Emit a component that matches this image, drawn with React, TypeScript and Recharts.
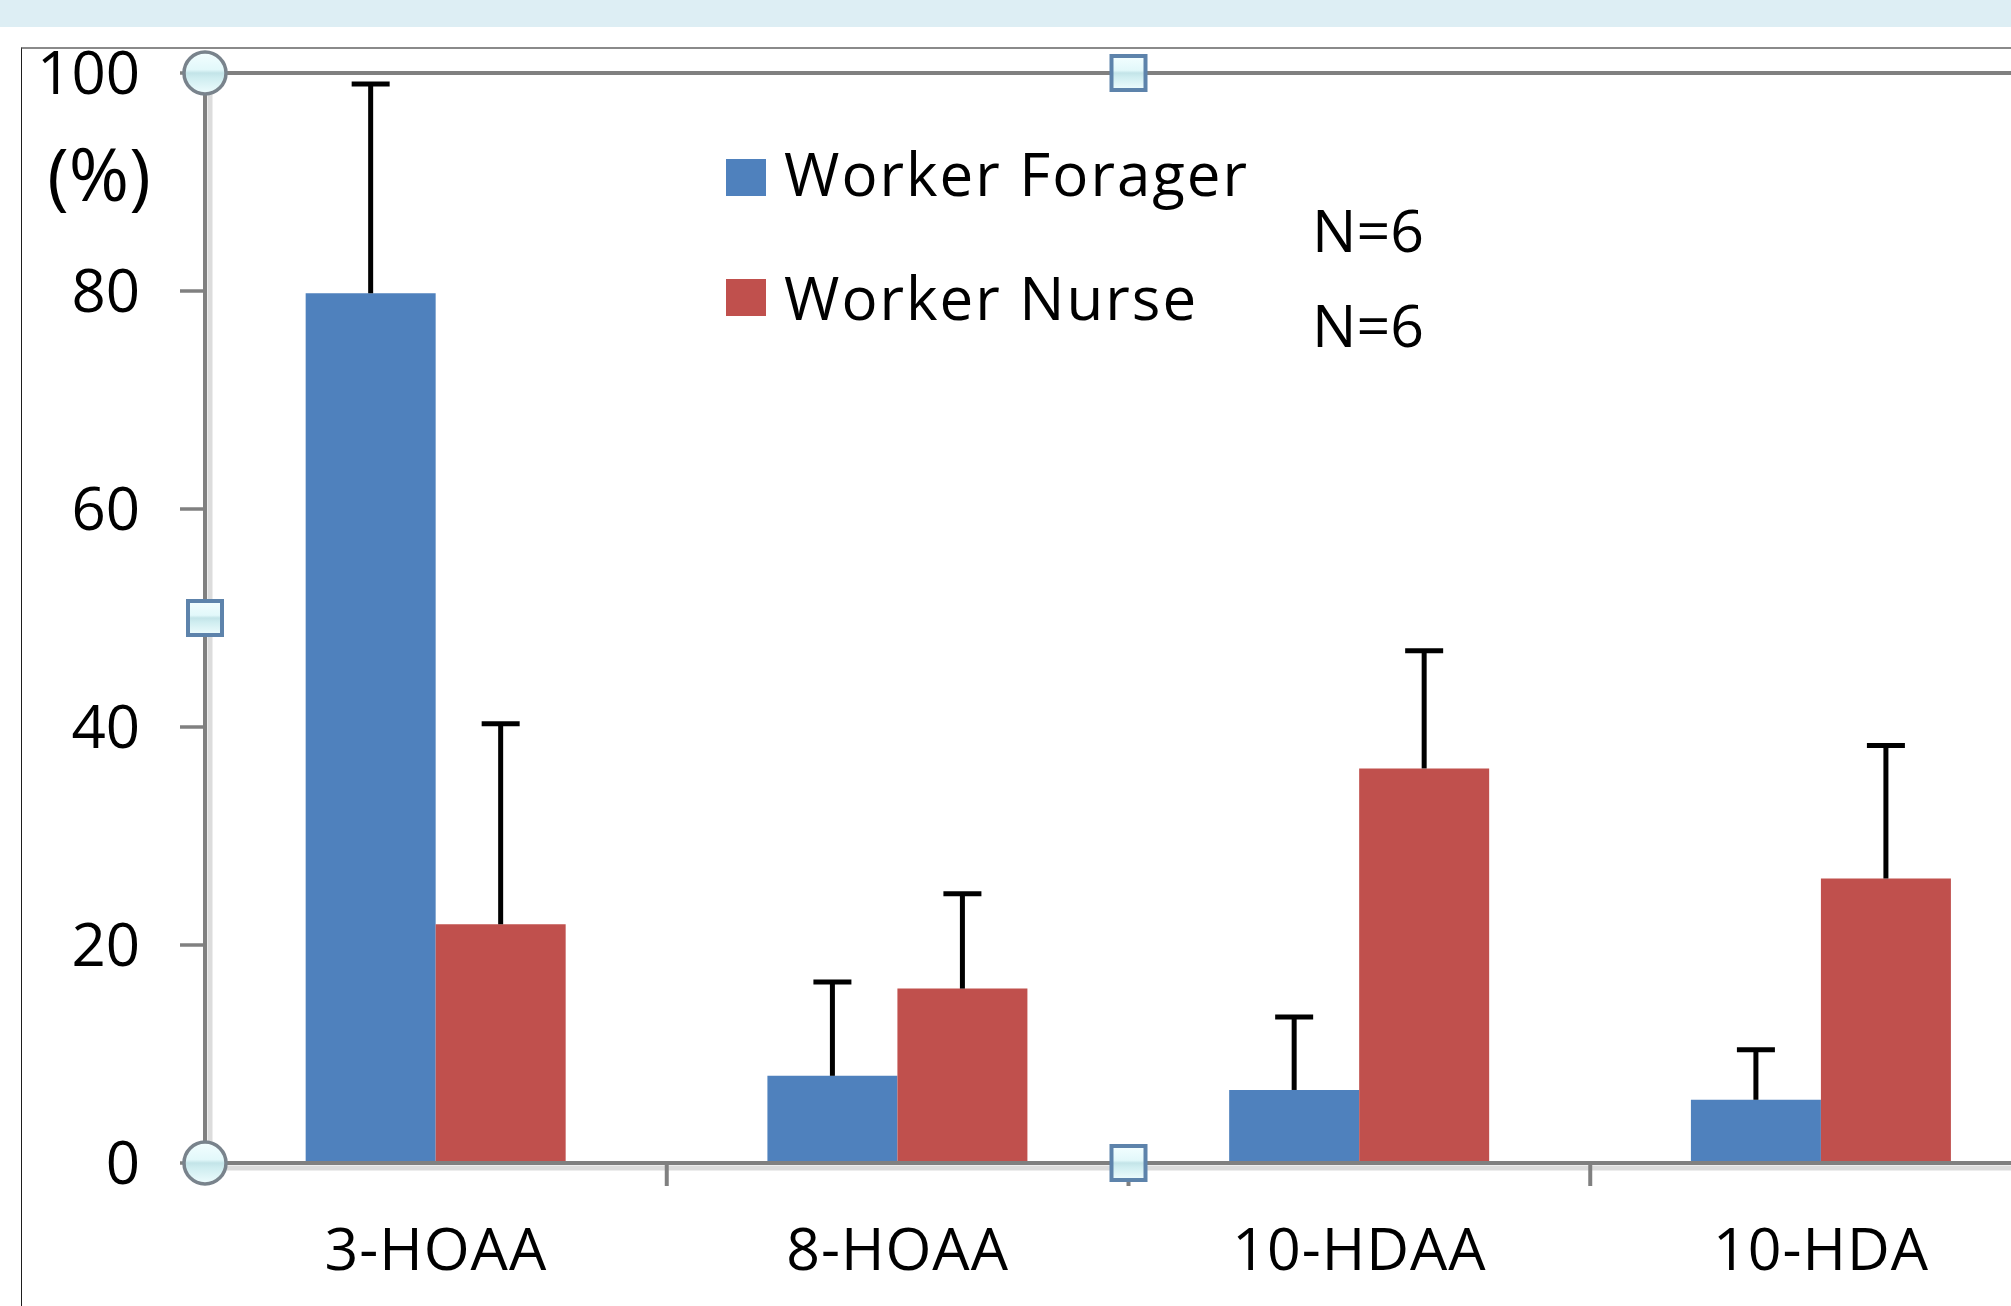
import React from 'react';
import { BarChart, Bar, XAxis, YAxis, ErrorBar, Legend, ReferenceLine, ReferenceDot } from 'recharts';

const categories = ['3-HOAA', '8-HOAA', '10-HDAA', '10-HDA'];
const foragerValues = [79.8, 8.0, 6.7, 5.8];
const foragerErrors = [19.2, 8.6, 6.7, 4.6];
const nurseValues = [21.9, 16.0, 36.2, 26.1];
const nurseErrors = [18.4, 8.7, 10.8, 12.2];
const seriesNames = ['Worker Forager', 'Worker Nurse'];
const seriesColors = ['#4F81BD', '#C0504D'];
const yTicks = [0, 20, 40, 60, 80, 100];
const yAxisLabel = '(%)';
const sampleSizes = ['N=6', 'N=6'];
const boundaryPositions = [1, 2, 3];
const circleHandles = [
  [0, 100],
  [0, 0],
];
const squareHandles = [
  [2, 100],
  [0, 50],
  [2, 0],
];

const data = categories.map((name, i) => ({
  name,
  pos: i + 0.5,
  forager: foragerValues[i],
  nurse: nurseValues[i],
  fErr: [0, foragerErrors[i]],
  nErr: [0, nurseErrors[i]],
}));

const AXIS_GRAY = '#808080';
const SHADOW_GRAY = '#DCDCDC';

const gradStops = (
  <>
    <stop offset="0" stopColor="#F3FEFF" />
    <stop offset="0.42" stopColor="#E2F8FA" />
    <stop offset="0.5" stopColor="#C3E4E8" />
    <stop offset="0.62" stopColor="#CFEDF0" />
    <stop offset="1" stopColor="#EFFDFE" />
  </>
);

const CircleHandle = (p: any) => {
  const id = `hc${Math.round(p.cx)}_${Math.round(p.cy)}`;
  return (
    <g>
      <defs>
        <linearGradient id={id} x1="0" y1="0" x2="0" y2="1">
          {gradStops}
        </linearGradient>
      </defs>
      <circle cx={p.cx} cy={p.cy} r={21} fill={`url(#${id})`} stroke="#79838C" strokeWidth={3.5} />
    </g>
  );
};

const SquareHandle = (p: any) => {
  const id = `hs${Math.round(p.cx)}_${Math.round(p.cy)}`;
  return (
    <g>
      <defs>
        <linearGradient id={id} x1="0" y1="0" x2="0" y2="1">
          {gradStops}
        </linearGradient>
      </defs>
      <rect x={p.cx - 17} y={p.cy - 17} width={34} height={34} fill={`url(#${id})`} stroke="#5D83AB" strokeWidth={4} />
    </g>
  );
};

const BoundaryTick = (p: any) => (
  <line x1={p.cx} y1={p.cy} x2={p.cx} y2={p.cy + 23} stroke={AXIS_GRAY} strokeWidth={4} />
);

const YShadow = (p: any) => (
  <line x1={p.x1 + 5} y1={p.y1} x2={p.x2 + 5} y2={p.y2} stroke={SHADOW_GRAY} strokeWidth={5} />
);
const XShadow = (p: any) => (
  <line x1={p.x1} y1={p.y1 + 5} x2={p.x2} y2={p.y2 + 5} stroke={SHADOW_GRAY} strokeWidth={5} />
);

const renderLegend = (props: any) => {
  const payload = props.payload || [];
  return (
    <svg width={560} height={200} style={{ overflow: 'visible', display: 'block' }}>
      {payload.map((entry: any, i: number) => (
        <g key={i}>
          <rect x={0} y={10 + i * 120} width={40} height={37} fill={entry.color} />
          <text x={58} y={47 + i * 124} fontSize={60} letterSpacing={2} fill="#000" fontFamily="Open Sans">
            {entry.value}
          </text>
        </g>
      ))}
    </svg>
  );
};

export default function App() {
  return (
    <div
      style={{
        position: 'fixed',
        left: 0,
        top: 0,
        width: 2011,
        height: 1306,
        overflow: 'hidden',
        background: '#fff',
        fontFamily: 'Open Sans',
      }}
    >
      <style>{`.recharts-errorBar line:nth-of-type(3){display:none}`}</style>
      <div style={{ position: 'absolute', left: 0, top: 0, width: 2011, height: 27, background: '#DDEEF4' }} />
      <div
        style={{
          position: 'absolute',
          left: 21,
          top: 47,
          width: 3000,
          height: 2000,
          borderLeft: '1.5px solid #1E1E1E',
          borderTop: '2px solid #8A8A8A',
        }}
      />
      <div style={{ position: 'absolute', left: 0, top: 0 }}>
        <BarChart
          width={2100}
          height={1306}
          data={data}
          margin={{ top: 73, right: 48, bottom: 43, left: 0 }}
          barCategoryGap="21.8%"
          barGap={0}
        >
          <XAxis
            dataKey="name"
            height={100}
            axisLine={{ stroke: AXIS_GRAY, strokeWidth: 4 }}
            tickLine={false}
            tickSize={0}
            tickMargin={65}
            tick={{ fill: '#000', fontSize: 59, letterSpacing: 1 }}
            interval={0}
          />
          <XAxis xAxisId="n" dataKey="pos" type="number" domain={[0, 4]} allowDataOverflow hide />
          <YAxis
            width={205}
            domain={[0, 100]}
            ticks={yTicks}
            interval={0}
            axisLine={{ stroke: AXIS_GRAY, strokeWidth: 4 }}
            tickLine={{ stroke: AXIS_GRAY, strokeWidth: 3.5 }}
            tickSize={25}
            tickMargin={40}
            tick={{ fill: '#000', fontSize: 60 }}
          />
          <ReferenceLine y={100} stroke={AXIS_GRAY} strokeWidth={4} />
          <ReferenceLine xAxisId="n" x={0} shape={YShadow} />
          <ReferenceLine y={0} shape={XShadow} />
          <Legend
            layout="vertical"
            align="center"
            verticalAlign="middle"
            content={renderLegend}
            wrapperStyle={{ left: 726, top: 149, width: 560, height: 200 }}
          />
          <Bar dataKey="forager" name={seriesNames[0]} fill={seriesColors[0]} isAnimationActive={false}>
            <ErrorBar dataKey="fErr" width={19} strokeWidth={5} stroke="#000" direction="y" isAnimationActive={false} />
          </Bar>
          <Bar dataKey="nurse" name={seriesNames[1]} fill={seriesColors[1]} isAnimationActive={false}>
            <ErrorBar dataKey="nErr" width={19} strokeWidth={5} stroke="#000" direction="y" isAnimationActive={false} />
          </Bar>
          {boundaryPositions.map((b) => (
            <ReferenceDot key={`b${b}`} xAxisId="n" x={b} y={0} r={0} shape={BoundaryTick} />
          ))}
          {circleHandles.map(([hx, hy]) => (
            <ReferenceDot key={`c${hx}_${hy}`} xAxisId="n" x={hx} y={hy} r={21} shape={CircleHandle} />
          ))}
          {squareHandles.map(([hx, hy]) => (
            <ReferenceDot key={`s${hx}_${hy}`} xAxisId="n" x={hx} y={hy} r={17} shape={SquareHandle} />
          ))}
        </BarChart>
      </div>
      <svg
        width={2011}
        height={1306}
        style={{ position: 'absolute', left: 0, top: 0, pointerEvents: 'none' }}
      >
        <text x={99} y={201} fontSize={73} textAnchor="middle" fill="#000" fontFamily="Open Sans">
          {yAxisLabel}
        </text>
        {sampleSizes.map((s, i) => (
          <text key={i} x={1312} y={252 + i * 95} fontSize={59} fill="#000" fontFamily="Open Sans">
            {s}
          </text>
        ))}
      </svg>
    </div>
  );
}
